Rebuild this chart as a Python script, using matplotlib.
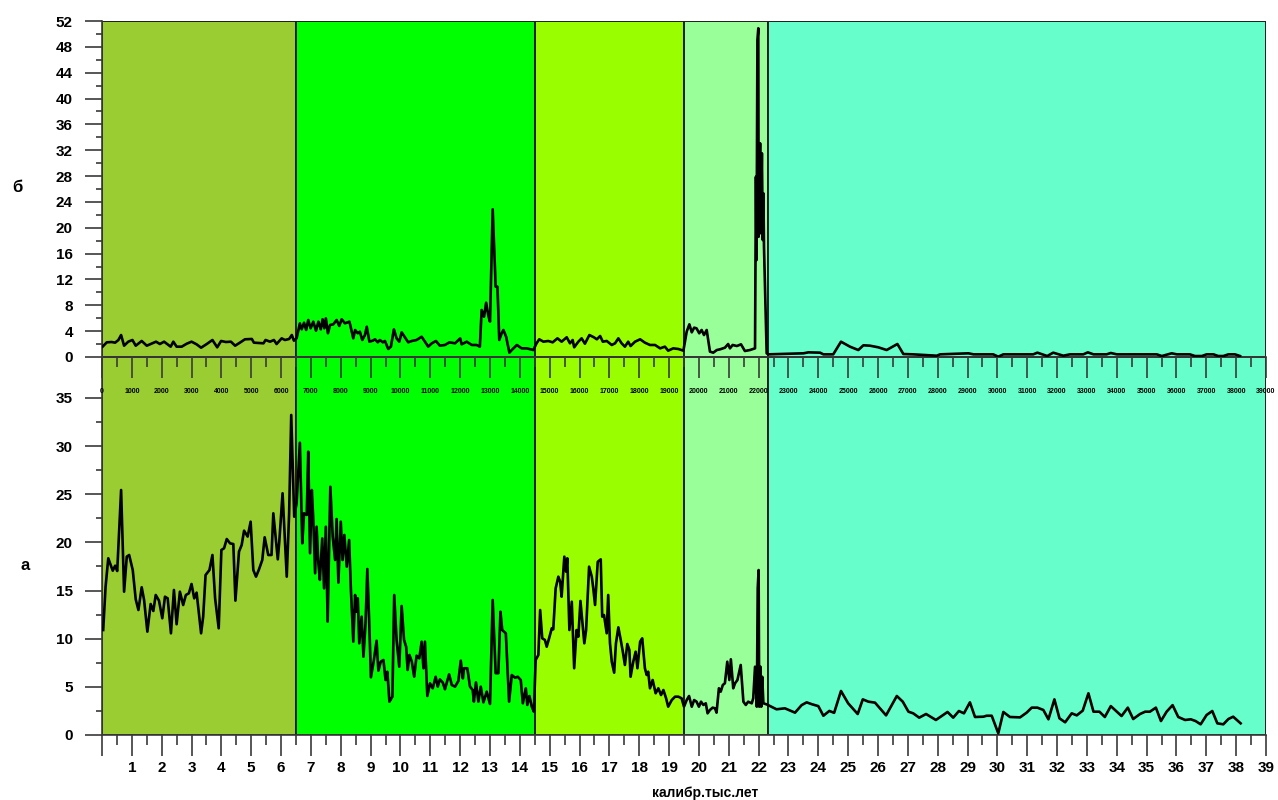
import numpy as np
import matplotlib
matplotlib.use("Agg")
import matplotlib.pyplot as plt
from matplotlib.ticker import MultipleLocator, FixedLocator, FixedFormatter

plt.rcParams['font.family'] = ['Liberation Sans', 'DejaVu Sans']
plt.rcParams['font.weight'] = 'bold'

# climatic periods (ka) and their colours
band_start = [0, 6.5, 14.5, 19.5, 22.3]
band_end = [6.5, 14.5, 19.5, 22.3, 39]
band_color = ['#9ACD32', '#00FF00', '#99FF00', '#99FF99', '#66FFCC']

# series "а" (lower panel), age in ka
a_age = [0.04, 0.12, 0.21, 0.36, 0.44, 0.51, 0.64, 0.74, 0.83, 0.91, 1.03, 1.13, 1.22, 1.33, 1.41, 1.52, 1.63, 1.72,
         1.80, 1.91, 2.02, 2.11, 2.20, 2.31, 2.41, 2.50, 2.61, 2.72, 2.81, 2.91, 3.00, 3.09, 3.17, 3.32, 3.39, 3.47,
         3.60, 3.70, 3.79, 3.91, 4.00, 4.09, 4.18, 4.29, 4.40, 4.47, 4.59, 4.68, 4.76, 4.88, 4.98, 5.07, 5.16, 5.26,
         5.37, 5.45, 5.57, 5.68, 5.74, 5.89, 5.94, 6.05, 6.19, 6.27, 6.34, 6.44,
         6.52, 6.63, 6.71, 6.77, 6.86, 6.91, 6.97, 7.03, 7.08, 7.14, 7.19, 7.25, 7.30, 7.38, 7.44, 7.50, 7.56, 7.65,
         7.73, 7.81, 7.86, 7.92, 8.00, 8.06, 8.12, 8.20, 8.28, 8.34, 8.42, 8.48, 8.53, 8.57, 8.62, 8.70, 8.76, 8.83,
         8.89, 8.96, 9.01, 9.11, 9.20, 9.26, 9.34, 9.43, 9.50, 9.56, 9.63, 9.73, 9.79, 9.87, 9.96, 10.04, 10.12,
         10.19, 10.24, 10.30, 10.38, 10.46, 10.54, 10.63, 10.71, 10.77, 10.82, 10.90, 10.99, 11.08, 11.18, 11.25,
         11.32, 11.42, 11.49, 11.63, 11.72, 11.83, 11.94, 12.02, 12.09, 12.13, 12.24, 12.33, 12.42, 12.46, 12.53,
         12.61, 12.69, 12.78, 12.89, 13.00, 13.09, 13.19, 13.28, 13.35, 13.41, 13.53, 13.64, 13.73, 13.84, 13.93,
         14.03, 14.10, 14.20, 14.25, 14.32, 14.40, 14.47,
         14.53, 14.62, 14.68, 14.75, 14.84, 14.90, 14.98, 15.07, 15.12, 15.20, 15.29, 15.35, 15.40, 15.49, 15.55,
         15.59, 15.66, 15.74, 15.82, 15.90, 15.96, 16.03, 16.16, 16.22, 16.32, 16.41, 16.46, 16.52, 16.61, 16.71,
         16.76, 16.82, 16.91, 16.96, 17.02, 17.08, 17.16, 17.22, 17.30, 17.38, 17.45, 17.52, 17.60, 17.67, 17.71,
         17.80, 17.88, 17.94, 18.03, 18.10, 18.19, 18.25, 18.30, 18.36, 18.45, 18.55, 18.64, 18.73, 18.81, 18.90,
         18.97, 19.09, 19.20, 19.31, 19.42, 19.50, 19.59, 19.67, 19.76, 19.84, 19.92, 20.00, 20.07, 20.15, 20.23,
         20.29, 20.37, 20.46, 20.54, 20.59, 20.67, 20.73, 20.80, 20.87, 20.95, 21.02, 21.07, 21.15, 21.21, 21.29,
         21.40, 21.49, 21.57, 21.65, 21.77, 21.82, 21.88, 21.94, 21.97, 22.00, 22.02, 22.06, 22.09, 22.12, 22.16,
         22.27,
         22.60, 22.88, 23.22, 23.44, 23.61, 23.78, 24.00, 24.17, 24.37, 24.53, 24.76, 25.00, 25.32, 25.49, 25.68,
         25.90, 26.27, 26.63, 26.83, 27.02, 27.18, 27.38, 27.61, 27.94, 28.13, 28.33, 28.52, 28.71, 28.88, 29.08,
         29.25, 29.53, 29.64, 29.81, 30.03, 30.20, 30.42, 30.76, 30.98, 31.15, 31.34, 31.54, 31.71, 31.91, 32.08,
         32.27, 32.49, 32.66, 32.86, 33.05, 33.22, 33.42, 33.60, 33.80, 34.16, 34.37, 34.55, 34.78, 34.95, 35.11,
         35.31, 35.48, 35.67, 35.87, 36.06, 36.29, 36.48, 36.64, 36.81, 37.01, 37.20, 37.37, 37.57, 37.74, 37.90,
         38.15]
a_val = [10.9, 15.4, 18.35, 17.06, 17.58, 17.03, 25.44, 14.88, 18.52, 18.69, 17.13, 14.09, 12.98, 15.34, 14.02,
         10.73, 13.6, 12.88, 14.54, 13.95, 12.12, 14.36, 14.19, 10.56, 15.06, 11.5, 14.88, 13.5, 14.54, 14.71, 15.68,
         14.19, 14.78, 10.56, 12.29, 16.61, 17.13, 18.69, 14.19, 11.08, 19.21, 19.39, 20.35, 19.9, 19.83, 13.95,
         19.04, 19.73, 21.22, 20.6, 22.15, 17.13, 16.44, 17.2, 18.17, 20.53, 18.69, 18.69, 23.02, 18.24, 20.08, 25.1,
         16.44, 23.02, 33.23, 22.67,
         24.06, 30.35, 19.9, 23.02, 22.85, 29.42, 18.87, 25.44, 22.33, 16.79, 21.63, 17.83, 16.1, 20.42, 15.23,
         21.63, 11.77, 25.78, 20.6, 18.17, 22.43, 15.82, 22.15, 18.17, 20.77, 17.48, 20.25, 15.06, 9.69, 14.54, 12.8,
         14.19, 9.52, 12.29, 8.13, 11.6, 17.24, 11.08, 5.99, 7.79, 9.79, 6.68, 7.61, 7.79, 5.71, 6.57, 3.46, 3.98,
         14.54, 9.87, 7.09, 13.4, 9.87, 9.17, 6.75, 8.31, 7.61, 6.05, 8.24, 7.96, 9.69, 6.93, 9.69, 4.05, 5.37, 4.85,
         6.05, 5.02, 5.78, 5.43, 4.75, 6.3, 5.19, 5.02, 5.61, 7.72, 5.88, 6.93, 6.93, 5.02, 4.67, 3.46, 5.47, 3.46,
         5.02, 3.39, 4.5, 3.22, 14.02, 6.41, 6.41, 12.8, 10.9, 10.56, 3.46, 6.23, 5.95, 6.05, 5.71, 3.29, 4.85, 3.12,
         4.05, 2.94, 2.42,
         7.79, 8.31, 12.98, 10.04, 9.87, 9.17, 10.04, 11.08, 10.97, 15.23, 16.44, 15.92, 14.36, 18.52, 16.96, 18.35,
         10.9, 13.84, 6.93, 10.9, 10.21, 13.92, 9.52, 10.9, 17.48, 16.44, 15.23, 13.5, 17.99, 18.24, 12.29, 12.46,
         10.56, 14.54, 9.52, 7.61, 6.47, 9.52, 11.18, 9.87, 8.65, 7.27, 9.45, 8.83, 6.05, 7.61, 8.65, 6.93, 9.69,
         10.04, 6.93, 6.23, 6.57, 4.85, 5.71, 4.33, 4.85, 4.15, 4.67, 3.81, 2.94, 3.63, 3.98, 3.98, 3.81, 2.94, 3.63,
         4.05, 2.94, 3.63, 3.46, 2.94, 3.46, 3.12, 3.29, 2.25, 2.6, 2.84, 2.77, 2.32, 4.85, 4.5, 5.19, 5.37, 7.61,
         5.71, 7.86, 4.85, 5.37, 5.71, 7.27, 3.46, 3.12, 3.46, 3.29, 3.81, 7.09, 2.94, 15.23, 17.13, 2.94, 7.09, 2.94,
         6.05, 3.29, 3.18,
         2.67, 2.77, 2.32, 3.1, 3.39, 3.2, 3.0, 2.0, 2.5, 2.3, 4.57, 3.29, 2.18, 3.7, 3.46, 3.36, 2.04, 4.05, 3.46,
         2.42, 2.25, 1.8, 2.18, 1.56, 1.97, 2.39, 1.8, 2.49, 2.25, 3.39, 1.87, 1.9, 2.0, 2.0, 0.18, 2.39, 1.87, 1.83,
         2.32, 2.84, 2.84, 2.6, 1.63, 3.7, 1.73, 1.32, 2.25, 2.04, 2.53, 4.33, 2.42, 2.42, 1.87, 3.0, 1.97, 2.84,
         1.66, 2.18, 2.42, 2.42, 2.84, 1.45, 2.42, 3.1, 1.87, 1.56, 1.63, 1.45, 1.11, 2.08, 2.49, 1.21, 1.11, 1.66,
         1.9, 1.21]

# series "б" (upper panel), age in ka
b_age = [0.02, 0.16, 0.32, 0.44, 0.55, 0.64, 0.74, 0.88, 1.02, 1.13, 1.33, 1.50, 1.63, 1.81, 1.94, 2.08, 2.20, 2.30,
         2.39, 2.50, 2.67, 2.84, 3.00, 3.17, 3.32, 3.51, 3.70, 3.86, 3.99, 4.15, 4.32, 4.46, 4.62, 4.79, 5.02, 5.09,
         5.41, 5.48, 5.63, 5.76, 5.85, 6.02, 6.13, 6.27, 6.36, 6.43, 6.52, 6.63, 6.69, 6.77, 6.84, 6.91, 6.99, 7.08,
         7.17, 7.25, 7.33, 7.39, 7.45, 7.50, 7.57, 7.64, 7.75, 7.86, 7.95, 8.03, 8.14, 8.29, 8.42, 8.48, 8.57, 8.64,
         8.72, 8.81, 8.87, 8.96, 9.07, 9.15, 9.24, 9.31, 9.41, 9.48, 9.59, 9.68, 9.78, 9.87, 9.96, 10.04, 10.15,
         10.26, 10.38, 10.54, 10.71, 10.82, 10.93, 11.05, 11.19, 11.32, 11.49, 11.64, 11.83, 12.00, 12.05, 12.22,
         12.39, 12.55, 12.66, 12.72, 12.80, 12.87, 12.94, 13.00, 13.09, 13.13, 13.19, 13.25, 13.31, 13.39, 13.45,
         13.54, 13.65, 13.73, 13.90, 14.06, 14.23, 14.45, 14.56, 14.65, 14.79, 14.95, 15.10, 15.26, 15.40, 15.57,
         15.68, 15.77, 15.82, 15.96, 16.07, 16.18, 16.33, 16.48, 16.58, 16.69, 16.78, 16.91, 17.08, 17.19, 17.30,
         17.41, 17.52, 17.63, 17.71, 17.86, 18.03, 18.19, 18.36, 18.53, 18.70, 18.86, 18.97, 19.14, 19.31, 19.48,
         19.59, 19.68, 19.76, 19.84, 19.92, 20.01, 20.09, 20.17, 20.26, 20.37, 20.48, 20.60, 20.71, 20.87, 20.98,
         21.04, 21.13, 21.27, 21.41, 21.54, 21.71, 21.88, 21.91, 21.93, 21.96, 21.99, 22.00, 22.03, 22.05, 22.07,
         22.09, 22.11, 22.14, 22.16, 22.18, 22.27, 22.32, 23.50, 23.67, 24.06, 24.17, 24.50, 24.76, 25.06, 25.34,
         25.51, 25.73, 26.01, 26.29, 26.65, 26.85, 27.18, 27.97, 28.08, 29.03, 29.20, 29.86, 30.03, 30.20, 31.20,
         31.34, 31.67, 31.87, 32.21, 32.43, 32.88, 33.03, 33.22, 33.66, 33.80, 34.00, 35.34, 35.51, 35.84, 36.01,
         36.45, 36.62, 36.85, 37.01, 37.24, 37.40, 37.57, 37.74, 37.96, 38.13]
b_val = [1.6, 2.27, 2.32, 2.22, 2.63, 3.4, 1.75, 2.37, 2.63, 1.75, 2.48, 1.75, 2.01, 2.37, 2.01, 2.37, 1.96, 1.6,
         2.37, 1.6, 1.6, 2.06, 2.37, 1.96, 1.44, 2.01, 2.63, 1.5, 2.48, 2.32, 2.37, 1.75, 2.22, 2.74, 2.79, 2.22,
         2.12, 2.63, 2.37, 2.63, 2.01, 2.89, 2.63, 2.79, 3.4, 2.53, 2.89, 5.21, 4.28, 5.31, 4.18, 5.73, 4.44, 5.47,
         4.07, 5.47, 4.28, 5.84, 4.44, 5.99, 3.67, 4.95, 5.06, 5.73, 4.8, 5.84, 5.21, 5.47, 2.89, 4.18, 3.67, 3.92,
         2.63, 3.4, 4.69, 2.37, 2.53, 2.74, 2.27, 2.63, 2.27, 2.48, 1.24, 1.6, 4.28, 2.89, 2.37, 3.82, 3.05, 2.27,
         2.48, 2.63, 3.14, 2.37, 1.6, 2.12, 2.48, 1.75, 1.86, 2.27, 2.12, 2.89, 1.96, 2.37, 1.86, 1.86, 1.6, 7.28,
         6.24, 8.41, 6.5, 5.47, 22.86, 18.1, 10.88, 10.88, 2.63, 3.67, 4.18, 3.14, 0.67, 1.08, 1.86, 1.34, 1.34,
         1.08, 2.12, 2.74, 2.37, 2.48, 2.27, 2.89, 2.37, 3.05, 2.12, 2.63, 1.5, 2.37, 2.89, 2.06, 3.4, 3.05, 2.74,
         3.25, 2.37, 2.48, 1.86, 2.12, 2.89, 2.12, 1.6, 2.37, 1.7, 2.37, 2.74, 2.22, 1.86, 1.86, 1.34, 1.6, 0.98,
         1.34, 1.24, 0.98, 3.92, 5.06, 3.82, 4.54, 4.44, 3.67, 4.18, 3.4, 4.18, 0.83, 0.67, 1.08, 1.19, 1.44, 2.01,
         1.34, 1.86, 1.7, 1.96, 0.93, 1.08, 1.34, 27.9, 15.0, 49.07, 50.88, 18.6, 28.0, 33.08, 19.15, 25.0, 31.53,
         18.1, 25.34, 17.07, 0.57, 0.41, 0.57, 0.72, 0.67, 0.41, 0.41, 2.37, 1.6, 1.08, 1.81, 1.75, 1.5, 1.08, 2.01,
         0.46, 0.41, 0.2, 0.41, 0.57, 0.41, 0.41, 0.05, 0.41, 0.41, 0.67, 0.15, 0.67, 0.2, 0.41, 0.41, 0.72, 0.41,
         0.41, 0.62, 0.41, 0.41, 0.15, 0.57, 0.41, 0.41, 0.15, 0.15, 0.41, 0.41, 0.15, 0.15, 0.41, 0.41, 0.15]

top_ticks = list(range(0, 40000, 1000))
bottom_labels = [''] + [str(i) for i in range(1, 40)]

fig = plt.figure(figsize=(12.78, 8), dpi=100)
W, H = 1278, 800
ax_a = fig.add_axes([102 / W, 65 / H, 1164 / W, 378 / H])
ax_b = fig.add_axes([102 / W, 443 / H, 1164 / W, 336 / H])

tick_col = '#3a3a3a'
for ax, scale in ((ax_a, 1), (ax_b, 1000)):
    for s, e, c in zip(band_start, band_end, band_color):
        ax.axvspan(s * scale, e * scale, facecolor=c, edgecolor='#1e1e1e', linewidth=1.4, zorder=0)
    ax.set_facecolor('none')
    ax.spines['top'].set_visible(False)
    ax.spines['right'].set_visible(False)
    ax.spines['left'].set_color(tick_col)
    ax.spines['bottom'].set_color(tick_col)
    ax.spines['left'].set_linewidth(1.2)
    ax.spines['bottom'].set_linewidth(1.2)
    ax.tick_params(axis='y', which='major', direction='out', length=12, width=1.2, color=tick_col,
                   labelsize=11, pad=9)
    ax.tick_params(axis='y', which='minor', direction='out', length=4.5, width=1.2, color=tick_col)

# lower panel
ax_a.plot(a_age, a_val, color='black', linewidth=1.9, zorder=3)
ax_a.set_xlim(0, 39)
ax_a.set_ylim(0, 39.25)
ax_a.yaxis.set_major_locator(FixedLocator(range(0, 36, 5)))
ax_a.yaxis.set_minor_locator(FixedLocator(np.arange(2.5, 35, 5)))
ax_a.xaxis.set_major_locator(FixedLocator(range(0, 40)))
ax_a.xaxis.set_major_formatter(FixedFormatter(bottom_labels))
ax_a.xaxis.set_minor_locator(MultipleLocator(0.5))
ax_a.tick_params(axis='x', which='major', direction='out', length=15, width=1.2, color=tick_col,
                 labelsize=11, pad=4)
ax_a.tick_params(axis='x', which='minor', direction='out', length=7, width=1.2, color=tick_col)

# upper panel
ax_b.plot(np.array(b_age) * 1000, b_val, color='black', linewidth=1.9, zorder=3)
ax_b.set_xlim(0, 39000)
ax_b.set_ylim(0, 52)
ax_b.yaxis.set_major_locator(MultipleLocator(4))
ax_b.yaxis.set_minor_locator(MultipleLocator(2))
ax_b.xaxis.set_major_locator(FixedLocator(top_ticks))
ax_b.xaxis.set_minor_locator(MultipleLocator(500))
ax_b.tick_params(axis='x', which='major', direction='out', length=15, width=1.2, color=tick_col,
                 labelsize=5, pad=7)
ax_b.tick_params(axis='x', which='minor', direction='out', length=7, width=1.2, color=tick_col)

fig.text(17 / W, 1 - 188 / H, 'б', fontsize=12, fontweight='bold', ha='center', va='center')
fig.text(25 / W, 1 - 565 / H, 'а', fontsize=12, fontweight='bold', ha='center', va='center')
fig.text(705 / W, 1 - 793 / H, 'калибр.тыс.лет', fontsize=10, fontweight='bold', ha='center', va='center')

fig.savefig('out.png', dpi=100)
